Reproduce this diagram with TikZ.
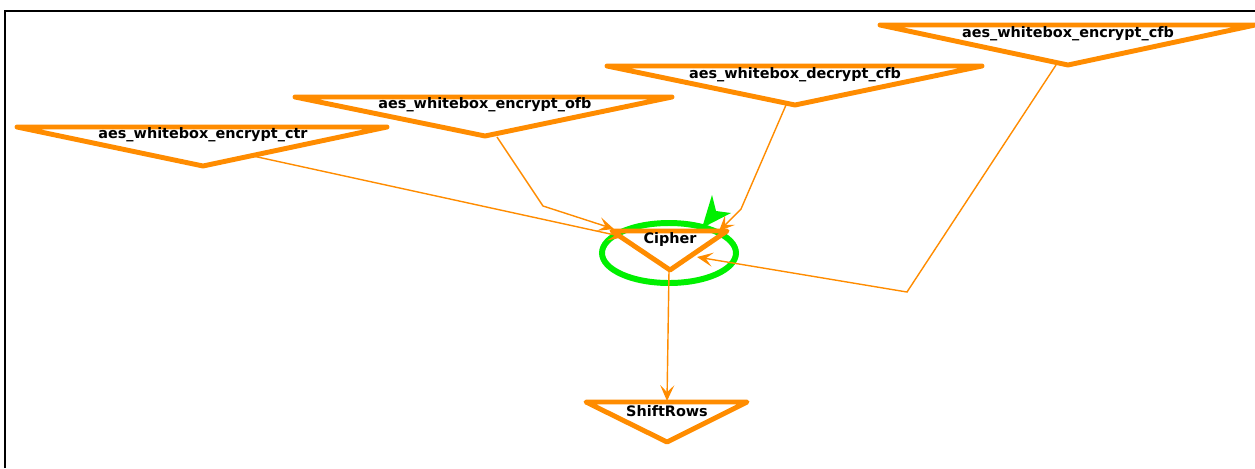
\documentclass[tikz,border=0pt]{standalone}
\usepackage{fontspec}
\setmainfont{DejaVu Sans}
\usetikzlibrary{arrows.meta}
\definecolor{callorange}{RGB}{255,140,0}
\definecolor{hlgreen}{RGB}{0,240,0}
\tikzset{
  fn/.style={font=\fontsize{8.2}{10}\selectfont\bfseries, inner sep=0pt},
  tri/.style={draw=callorange, line width=2.8pt, line join=round},
  call/.style={draw=callorange, line width=0.8pt, -{Stealth[length=9pt,width=8pt,inset=4pt]}},
}
\begin{document}
\begin{tikzpicture}[x=0.02cm,y=-0.02cm]
\useasboundingbox (0,0) rectangle (1255,468);
\fill[white] (0,0) rectangle (1255,468);
% frame
\draw[line width=1.2pt] (5,468) -- (5,11) -- (1255,11);
% functions
\draw[tri] (17,127) -- (387,127) -- (203,166) -- cycle;
\node[fn] (ctr) at (203,135) {aes\_whitebox\_encrypt\_ctr};
\draw[tri] (295,97) -- (672,97) -- (485,136) -- cycle;
\node[fn] (ofb) at (485,105) {aes\_whitebox\_encrypt\_ofb};
\draw[tri] (607,66) -- (982,66) -- (795,105) -- cycle;
\node[fn] (dcfb) at (795,75) {aes\_whitebox\_decrypt\_cfb};
\draw[tri] (880,25) -- (1255,25) -- (1068,65) -- cycle;
\node[fn] (ecfb) at (1068,34) {aes\_whitebox\_encrypt\_cfb};
\draw[hlgreen, line width=3.4pt] (669,253) ellipse (67 and 30);
\draw[tri] (612,231) -- (727,231) -- (670,270) -- cycle;
\node[fn] (cipher) at (670,240) {Cipher};
\draw[tri] (586,402) -- (747,402) -- (667,442) -- cycle;
\node[fn] (shift) at (667,411) {ShiftRows};
% edge ends
\coordinate (ctr-out) at (253,156);
\coordinate (ofb-out) at (497,137);
\coordinate (dcfb-out) at (786,105);
\coordinate (ecfb-out) at (1056,65);
\coordinate (cipher-out) at (669,271);
\coordinate (in-ctr) at (624,237);
\coordinate (in-ofb) at (614,229);
\coordinate (in-dcfb) at (719,231);
\coordinate (in-ecfb) at (697,257);
\coordinate (in-shift) at (667,401);
% calls
\draw[call] (ctr-out) -- (in-ctr);
\draw[call] (ofb-out) -- (543,206) -- (in-ofb);
\draw[call] (dcfb-out) -- (741,209) -- (in-dcfb);
\draw[call] (ecfb-out) -- (907,292) -- (in-ecfb);
\draw[call] (cipher-out) -- (in-shift);
\fill[hlgreen] (712,195) -- (716,211) -- (731,213) -- (702,228) -- cycle;
\end{tikzpicture}
\end{document}
